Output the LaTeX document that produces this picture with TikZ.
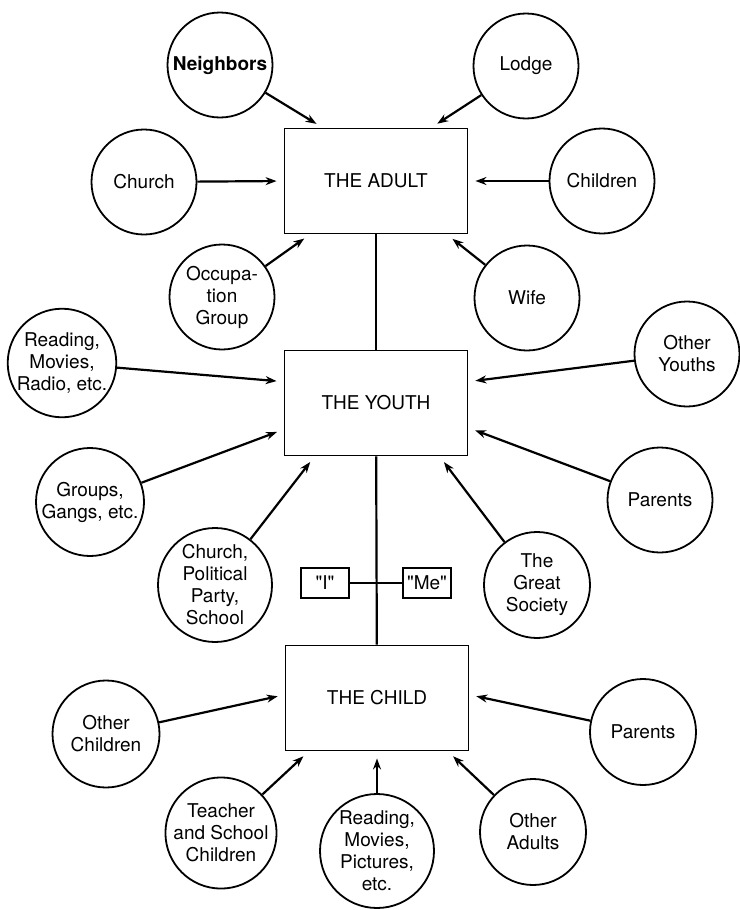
\documentclass[tikz,border=0pt]{standalone}
\usepackage{fontspec}
\setmainfont{TeX Gyre Heros}
\newfontfamily\quotefont{TeX Gyre Heros}[Ligatures=TeXOff]
\usetikzlibrary{arrows.meta}

\begin{document}
\begin{tikzpicture}[x=1pt, y=-1pt,
      stage/.style={rectangle, draw, line width=1.9pt,
                    minimum width=183pt, minimum height=105pt,
                    font=\fontsize{19}{22}\selectfont},
      infl/.style={circle, draw, line width=1.8pt, minimum size=105pt,
                   inner sep=0pt, align=center,
                   font=\fontsize{19}{22}\selectfont},
      selfbox/.style={rectangle, draw, line width=1.7pt,
                      minimum width=48pt, minimum height=30pt, inner sep=0pt,
                      font=\quotefont\fontsize{19}{22}\selectfont},
      arr/.style={-{Stealth[length=11pt, width=8pt]}, line width=2.2pt,
                  shorten >=7pt},
      link/.style={line width=2.2pt}
    ]
    \useasboundingbox (0,0) rectangle (739,910);

    % Stage 3: the adult
    \node[stage] (adult) at (376,181) {THE ADULT};
    \node[infl, font=\fontsize{19}{22}\selectfont\bfseries] (nbr) at (220,65) {Neighbors};
    \node[infl] (lodge) at (526,66) {Lodge};
    \node[infl] (church) at (144,182) {Church};
    \node[infl] (children) at (602,181) {Children};
    \node[infl] (occup) at (222,297) {Occupa-\\tion\\Group};
    \node[infl] (wife) at (527,298) {Wife};
    \foreach \src/\ang in {nbr/135, lodge/44, church/180, children/0,
                           occup/219, wife/323} {
      \draw[arr] (\src) -- (adult.\ang);
    }

    % Stage 2: the youth
    \node[stage] (youth) at (376,403) {THE YOUTH};
    \node[infl, minimum size=108pt] (readY) at (62,363) {Reading,\\Movies,\\Radio, etc.};
    \node[infl] (otherY) at (687,354) {Other\\Youths};
    \node[infl, minimum size=108pt] (gangs) at (90,502) {Groups,\\Gangs, etc.};
    \node[infl] (parentsY) at (660,500) {Parents};
    \node[infl, minimum size=114pt] (cps) at (215,585) {Church,\\Political\\Party,\\School};
    \node[infl, minimum size=106pt] (society) at (537,585) {The\\Great\\Society};
    \foreach \src/\ang in {readY/167, gangs/196, cps/221, otherY/13,
                           parentsY/345, society/320} {
      \draw[arr] (\src) -- (youth.\ang);
    }
    \draw[link] (adult) -- (youth);

    % "I" and "Me"
    \node[selfbox] (ibox) at (325,583) {"I"};
    \node[selfbox] (mebox) at (427,583) {"Me"};
    \draw[link] (ibox) -- (mebox);

    % Stage 1: the child
    \node[stage] (child) at (377,698) {THE CHILD};
    \node[infl, minimum size=107pt] (otherC) at (106,734) {Other\\Children};
    \node[infl, minimum size=110pt] (teacher) at (221,833) {Teacher\\and School\\Children};
    \node[infl, minimum size=114pt] (readC) at (377,851) {Reading,\\Movies,\\Pictures,\\etc.};
    \node[infl, minimum size=106pt] (otherA) at (533,832) {Other\\Adults};
    \node[infl, minimum size=106pt] (parentsC) at (643,732) {Parents};
    \foreach \src/\ang in {otherC/178, teacher/218, readC/270, otherA/323,
                           parentsC/2} {
      \draw[arr] (\src) -- (child.\ang);
    }
    \draw[link] (youth) -- (child);
  \end{tikzpicture}
\end{document}
